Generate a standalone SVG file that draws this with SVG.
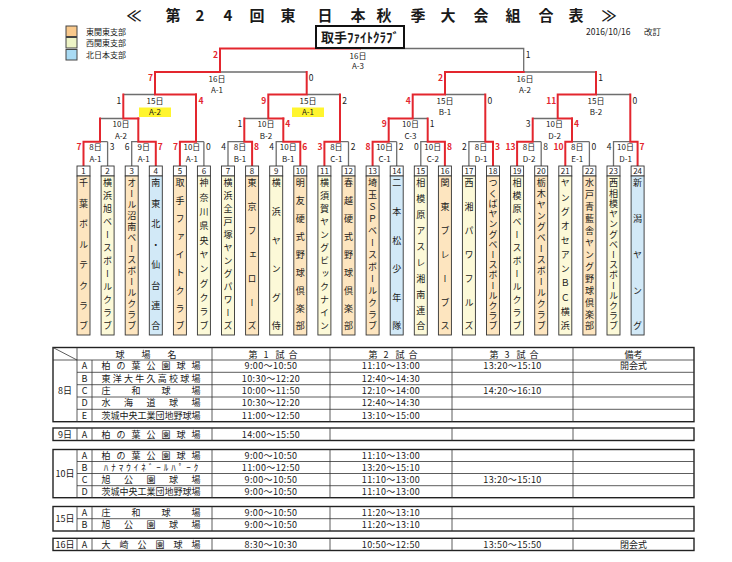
<svg xmlns="http://www.w3.org/2000/svg" width="732" height="562" viewBox="0 0 732 562">
<style>
text{font-family:"Noto Sans CJK JP","Liberation Sans",sans-serif;fill:#1a1a1a}
.red{stroke:#e3262e;stroke-width:2;fill:none;stroke-linecap:square}
.gry{stroke:#6e6e6e;stroke-width:1.3;fill:none}
.lbl{font-size:8px;text-anchor:middle}
.sc{font-size:8.5px;text-anchor:middle}
.sr{fill:#e3262e;font-weight:bold}
.nm{font-size:9px;writing-mode:vertical-rl;text-anchor:middle}
.num{font-size:8px;text-anchor:middle}
.nb{fill:#fff;stroke:#333;stroke-width:0.9}
.bx{stroke:#333;stroke-width:0.9}
.o{fill:#fde5bf}.y{fill:#fcf9d8}.b{fill:#d2e9f7}
.hl{fill:#fff52e}
.tb{fill:none;stroke:#333;stroke-width:0.8}
.to{fill:none;stroke:#222;stroke-width:1.4}
.tt{font-size:9px;text-anchor:middle;letter-spacing:0.4px}
.tv{font-size:9px;text-anchor:middle}
.lg{font-size:8px}
</style>
<rect width="732" height="562" fill="#fff"/>
<g id="title"><text x="134 173 200 228 257 288 325 358 384 418 448 481 513 546 576 609" y="21" style="font-size:15px;font-weight:bold;text-anchor:middle">≪第24回東日本秋季大会組合表≫</text></g>
<g id="date"><text x="586" y="35" style="font-size:8.5px">2016/10/16</text><text x="644" y="35" style="font-size:8.5px">改訂</text></g>
<g id="legend">
<rect x="66" y="26" width="11" height="10.5" fill="#f9c98c" stroke="#444"/>
<rect x="66" y="37.5" width="11" height="10.5" fill="#eef4c6" stroke="#444"/>
<rect x="66" y="49.5" width="11" height="10.5" fill="#a9dbf4" stroke="#444"/>
<text class="lg" x="86" y="34.5">東関東支部</text>
<text class="lg" x="86" y="45.5">西関東支部</text>
<text class="lg" x="86" y="57.5">北日本支部</text>
</g>
<g id="connectors">
<path class="gry" d="M107.6,166V141.7M100,141.7H107.6M131.7,166V141.7H138.3M203.9,166V141.7M196,141.7H203.9M228,166V141.7H244.3M276.2,166V141.7H283.3M348.5,166V141.7M340,141.7H348.5M396.7,166V141.7M388.7,141.7H396.7M420.8,166V141.7H427.7M468.9,166V141.7H485.3M541.2,166V141.7M532.7,141.7H541.2M589.4,166V141.7M572,141.7H589.4M613.5,166V141.7H630.3"/>
<path class="gry" d="M100,118.5H123.3M244.3,118.5H268.3M412.7,118.5H427.7M532.7,118.5H557.7M123.3,94.5H155M306.7,94.5H340M445,94.5H485.3M596,94.5H630.3M220,72H306.7M523.7,72H596M360,48.5H523.7V72"/>
<path class="red" d="M83.5,166V141.7H100V118.5M155.8,166V141.7H138.3V118.5M179.9,166V141.7H196V94.5M252.1,166V141.7H244.3V118.5M300.3,166V141.7H283.3V118.5M324.4,166V141.7H340V94.5M372.6,166V141.7H388.7V118.5M444.9,166V141.7H427.7V118.5M493,166V141.7H485.3V94.5M517.1,166V141.7H532.7V118.5M565.3,166V141.7H572V118.5M637.6,166V141.7H630.3V94.5"/>
<path class="red" d="M138.3,118.5H123.3V94.5M283.3,118.5H268.3V94.5M388.7,118.5H412.7V94.5M572,118.5H557.7V94.5M196,94.5H155V72M268.3,94.5H306.7V72M412.7,94.5H445V72M557.7,94.5H596V72M155,72H220V48.5H360M445,72H523.7"/>
</g>
<g id="champion"><rect x="316" y="26" width="88" height="22" fill="#fff" stroke="#111" stroke-width="2"/><text x="360" y="42" style="font-size:13px;font-weight:bold;text-anchor:middle">取手ﾌｧｲﾄｸﾗﾌﾞ</text></g>
<g id="m01"><text class="lbl" x="95.5" y="150">8日</text><text class="lbl" x="95.5" y="162">A-1</text><text class="sc sr" x="79" y="150">7</text><text class="sc" x="112" y="150">3</text></g>
<g id="m02"><text class="lbl" x="143.7" y="150">9日</text><text class="lbl" x="143.7" y="162">A-1</text><text class="sc" x="127.2" y="150">6</text><text class="sc sr" x="160.3" y="150">7</text></g>
<g id="m03"><text class="lbl" x="191.9" y="150">10日</text><text class="lbl" x="191.9" y="162">A-1</text><text class="sc sr" x="175.4" y="150">7</text><text class="sc" x="208.4" y="150">0</text></g>
<g id="m04"><text class="lbl" x="240" y="150">8日</text><text class="lbl" x="240" y="162">B-1</text><text class="sc" x="223.5" y="150">4</text><text class="sc sr" x="256.6" y="150">8</text></g>
<g id="m05"><text class="lbl" x="288.2" y="150">10日</text><text class="lbl" x="288.2" y="162">B-1</text><text class="sc" x="271.7" y="150">4</text><text class="sc sr" x="304.8" y="150">6</text></g>
<g id="m06"><text class="lbl" x="336.4" y="150">8日</text><text class="lbl" x="336.4" y="162">C-1</text><text class="sc sr" x="319.9" y="150">3</text><text class="sc" x="353" y="150">2</text></g>
<g id="m07"><text class="lbl" x="384.6" y="150">10日</text><text class="lbl" x="384.6" y="162">C-1</text><text class="sc sr" x="368.1" y="150">8</text><text class="sc" x="401.2" y="150">2</text></g>
<g id="m08"><text class="lbl" x="432.8" y="150">10日</text><text class="lbl" x="432.8" y="162">C-2</text><text class="sc" x="416.3" y="150">0</text><text class="sc sr" x="449.4" y="150">8</text></g>
<g id="m09"><text class="lbl" x="481" y="150">8日</text><text class="lbl" x="481" y="162">D-1</text><text class="sc" x="464.4" y="150">2</text><text class="sc sr" x="497.5" y="150">3</text></g>
<g id="m10"><text class="lbl" x="529.1" y="150">8日</text><text class="lbl" x="529.1" y="162">D-2</text><text class="sc sr" x="510.4" y="150">13</text><text class="sc" x="545.7" y="150">8</text></g>
<g id="m11"><text class="lbl" x="577.3" y="150">8日</text><text class="lbl" x="577.3" y="162">E-1</text><text class="sc sr" x="558.6" y="150">10</text><text class="sc" x="593.9" y="150">0</text></g>
<g id="m12"><text class="lbl" x="625.5" y="150">10日</text><text class="lbl" x="625.5" y="162">D-1</text><text class="sc" x="609" y="150">4</text><text class="sc sr" x="642.1" y="150">7</text></g>
<g id="m13"><text class="lbl" x="121" y="127">10日</text><text class="lbl" x="121" y="139">A-2</text></g>
<g id="m14"><text class="lbl" x="266" y="127">10日</text><text class="lbl" x="266" y="139">B-2</text><text class="sc" x="239.8" y="127">1</text><text class="sc sr" x="287.8" y="127">4</text></g>
<g id="m15"><text class="lbl" x="410.5" y="127">10日</text><text class="lbl" x="410.5" y="139">C-3</text><text class="sc sr" x="384.2" y="127">9</text><text class="sc" x="432.2" y="127">1</text></g>
<g id="m16"><text class="lbl" x="554.5" y="127">10日</text><text class="lbl" x="554.5" y="139">D-2</text><text class="sc" x="528.2" y="127">3</text><text class="sc sr" x="576.5" y="127">4</text></g>
<g id="m17"><rect class="hl" x="139" y="107.5" width="32" height="9.5"/><text class="lbl" x="155" y="103.5">15日</text><text class="lbl" x="155" y="115">A-2</text><text class="sc" x="118.8" y="103.5">1</text><text class="sc sr" x="201" y="103.5">4</text></g>
<g id="m18"><rect class="hl" x="292" y="107.5" width="32" height="9.5"/><text class="lbl" x="308" y="103.5">15日</text><text class="lbl" x="308" y="115">A-1</text><text class="sc sr" x="263.8" y="103.5">9</text><text class="sc" x="344.5" y="103.5">2</text></g>
<g id="m19"><text class="lbl" x="445" y="103.5">15日</text><text class="lbl" x="445" y="115">B-1</text><text class="sc sr" x="408.2" y="103.5">4</text><text class="sc" x="489.8" y="103.5">0</text></g>
<g id="m20"><text class="lbl" x="596" y="103.5">15日</text><text class="lbl" x="596" y="115">B-2</text><text class="sc sr" x="551.2" y="103.5">11</text><text class="sc" x="634.8" y="103.5">0</text></g>
<g id="m21"><text class="lbl" x="217" y="82">16日</text><text class="lbl" x="217" y="92.5">A-1</text><text class="sc sr" x="150.5" y="80.5">7</text><text class="sc" x="311.2" y="80.5">0</text></g>
<g id="m22"><text class="lbl" x="525" y="82">16日</text><text class="lbl" x="525" y="92.5">A-2</text><text class="sc sr" x="440.5" y="80.5">2</text><text class="sc" x="600.5" y="80.5">1</text></g>
<g id="m23"><text class="lbl" x="358" y="58.5">16日</text><text class="lbl" x="358" y="69">A-3</text><text class="sc sr" x="215.5" y="57.5">2</text><text class="sc" x="528.2" y="57.5">1</text></g>
<g id="team1"><rect class="nb" x="77" y="166" width="13" height="10"/><text class="num" x="83.5" y="174">1</text><rect class="bx o" x="77" y="176" width="13" height="159"/><text class="nm" x="83.5" y="183 203.4 223.9 244.3 264.7 285.1 305.6 326">千葉ボルテクラブ</text></g>
<g id="team2"><rect class="nb" x="101.1" y="166" width="13" height="10"/><text class="num" x="107.6" y="174">2</text><rect class="bx y" x="101.1" y="176" width="13" height="159"/><text class="nm" x="107.6" y="183 196 209 222 235 248 261 274 287 300 313 326">横浜旭ベースボールクラブ</text></g>
<g id="team3"><rect class="nb" x="125.2" y="166" width="13" height="10"/><text class="num" x="131.7" y="174">3</text><rect class="bx o" x="125.2" y="176" width="13" height="159"/><text class="nm" x="131.7" y="183 194 205 216 227 238 249 260 271 282 293 304 315 326">オール沼南ベースボールクラブ</text></g>
<g id="team4"><rect class="nb" x="149.3" y="166" width="13" height="10"/><text class="num" x="155.8" y="174">4</text><rect class="bx b" x="149.3" y="176" width="13" height="159"/><text class="nm" x="155.8" y="183 203.4 223.9 244.3 264.7 285.1 305.6 326">南東北・仙台連合</text></g>
<g id="team5"><rect class="nb" x="173.4" y="166" width="13" height="10"/><text class="num" x="179.9" y="174">5</text><rect class="bx o" x="173.4" y="176" width="13" height="159"/><text class="nm" x="179.9" y="183 200.9 218.8 236.6 254.5 272.4 290.3 308.1 326">取手ファイトクラブ</text></g>
<g id="team6"><rect class="nb" x="197.4" y="166" width="13" height="10"/><text class="num" x="203.9" y="174">6</text><rect class="bx y" x="197.4" y="176" width="13" height="159"/><text class="nm" x="203.9" y="183 197.3 211.6 225.9 240.2 254.5 268.8 283.1 297.4 311.7 326">神奈川県央ヤングクラブ</text></g>
<g id="team7"><rect class="nb" x="221.5" y="166" width="13" height="10"/><text class="num" x="228" y="174">7</text><rect class="bx y" x="221.5" y="176" width="13" height="159"/><text class="nm" x="228" y="183 196 209 222 235 248 261 274 287 300 313 326">横浜全戸塚ヤングパワーズ</text></g>
<g id="team8"><rect class="nb" x="245.6" y="166" width="13" height="10"/><text class="num" x="252.1" y="174">8</text><rect class="bx o" x="245.6" y="176" width="13" height="159"/><text class="nm" x="252.1" y="183 206.8 230.7 254.5 278.3 302.2 326">東京フェローズ</text></g>
<g id="team9"><rect class="nb" x="269.7" y="166" width="13" height="10"/><text class="num" x="276.2" y="174">9</text><rect class="bx y" x="269.7" y="176" width="13" height="159"/><text class="nm" x="276.2" y="183 211.6 240.2 268.8 297.4 326">横浜ヤング侍</text></g>
<g id="team10"><rect class="nb" x="293.8" y="166" width="13" height="10"/><text class="num" x="300.3" y="174">10</text><rect class="bx o" x="293.8" y="176" width="13" height="159"/><text class="nm" x="300.3" y="183 200.9 218.8 236.6 254.5 272.4 290.3 308.1 326">明友硬式野球倶楽部</text></g>
<g id="team11"><rect class="nb" x="317.9" y="166" width="13" height="10"/><text class="num" x="324.4" y="174">11</text><rect class="bx y" x="317.9" y="176" width="13" height="159"/><text class="nm" x="324.4" y="183 196 209 222 235 248 261 274 287 300 313 326">横須賀ヤングビックナイン</text></g>
<g id="team12"><rect class="nb" x="342" y="166" width="13" height="10"/><text class="num" x="348.5" y="174">12</text><rect class="bx o" x="342" y="176" width="13" height="159"/><text class="nm" x="348.5" y="183 200.9 218.8 236.6 254.5 272.4 290.3 308.1 326">春越硬式野球倶楽部</text></g>
<g id="team13"><rect class="nb" x="366.1" y="166" width="13" height="10"/><text class="num" x="372.6" y="174">13</text><rect class="bx o" x="366.1" y="176" width="13" height="159"/><text class="nm" x="372.6" y="183 194.9 206.8 218.8 230.7 242.6 254.5 266.4 278.3 290.3 302.2 314.1 326">埼玉ＳＰベースボールクラブ</text></g>
<g id="team14"><rect class="nb" x="390.2" y="166" width="13" height="10"/><text class="num" x="396.7" y="174">14</text><rect class="bx b" x="390.2" y="176" width="13" height="159"/><text class="nm" x="396.7" y="183 211.6 240.2 268.8 297.4 326">二本松少年隊</text></g>
<g id="team15"><rect class="nb" x="414.3" y="166" width="13" height="10"/><text class="num" x="420.8" y="174">15</text><rect class="bx y" x="414.3" y="176" width="13" height="159"/><text class="nm" x="420.8" y="183 198.9 214.8 230.7 246.6 262.4 278.3 294.2 310.1 326">相模原アスレ湘南連合</text></g>
<g id="team16"><rect class="nb" x="438.4" y="166" width="13" height="10"/><text class="num" x="444.9" y="174">16</text><rect class="bx o" x="438.4" y="176" width="13" height="159"/><text class="nm" x="444.9" y="183 206.8 230.7 254.5 278.3 302.2 326">関東ブレーブス</text></g>
<g id="team17"><rect class="nb" x="462.4" y="166" width="13" height="10"/><text class="num" x="468.9" y="174">17</text><rect class="bx y" x="462.4" y="176" width="13" height="159"/><text class="nm" x="468.9" y="183 206.8 230.7 254.5 278.3 302.2 326">西湘パワフルズ</text></g>
<g id="team18"><rect class="nb" x="486.5" y="166" width="13" height="10"/><text class="num" x="493" y="174">18</text><rect class="bx o" x="486.5" y="176" width="13" height="159"/><text class="nm" x="493" y="183 193.2 203.4 213.6 223.9 234.1 244.3 254.5 264.7 274.9 285.1 295.4 305.6 315.8 326">つくばヤングベースボールクラブ</text></g>
<g id="team19"><rect class="nb" x="510.6" y="166" width="13" height="10"/><text class="num" x="517.1" y="174">19</text><rect class="bx y" x="510.6" y="176" width="13" height="159"/><text class="nm" x="517.1" y="183 196 209 222 235 248 261 274 287 300 313 326">相模原ベースボールクラブ</text></g>
<g id="team20"><rect class="nb" x="534.7" y="166" width="13" height="10"/><text class="num" x="541.2" y="174">20</text><rect class="bx o" x="534.7" y="176" width="13" height="159"/><text class="nm" x="541.2" y="183 194 205 216 227 238 249 260 271 282 293 304 315 326">栃木ヤングベースボールクラブ</text></g>
<g id="team21"><rect class="nb" x="558.8" y="166" width="13" height="10"/><text class="num" x="565.3" y="174">21</text><rect class="bx y" x="558.8" y="176" width="13" height="159"/><text class="nm" x="565.3" y="183 197.3 211.6 225.9 240.2 254.5 268.8 283.1 297.4 311.7 326">ヤングオセアンＢＣ横浜</text></g>
<g id="team22"><rect class="nb" x="582.9" y="166" width="13" height="10"/><text class="num" x="589.4" y="174">22</text><rect class="bx o" x="582.9" y="176" width="13" height="159"/><text class="nm" x="589.4" y="183 194.9 206.8 218.8 230.7 242.6 254.5 266.4 278.3 290.3 302.2 314.1 326">水戸青藍舎ヤング野球倶楽部</text></g>
<g id="team23"><rect class="nb" x="607" y="166" width="13" height="10"/><text class="num" x="613.5" y="174">23</text><rect class="bx y" x="607" y="176" width="13" height="159"/><text class="nm" x="613.5" y="183 193.2 203.4 213.6 223.9 234.1 244.3 254.5 264.7 274.9 285.1 295.4 305.6 315.8 326">西相模ヤングベースボールクラブ</text></g>
<g id="team24"><rect class="nb" x="631.1" y="166" width="13" height="10"/><text class="num" x="637.6" y="174">24</text><rect class="bx b" x="631.1" y="176" width="13" height="159"/><text class="nm" x="637.6" y="183 218.8 254.5 290.3 326">新潟ヤング</text></g>
<g id="schedule">
<rect class="to" x="53" y="347.5" width="641" height="74.2"/>
<path class="tb" d="M53,360H694M77,372.3H694M77,384.7H694M77,397H694M77,409.3H694M77,347.5V421.7M92,360V421.7M212,347.5V421.7M330,347.5V421.7M452,347.5V421.7M573,347.5V421.7M53,347.5L77,360"/>
<text class="tv" x="120 146 172" y="357.5">球場名</text>
<text class="tv" x="253 266 280 293" y="357.5">第1試合</text>
<text class="tv" x="373 386 400 413" y="357.5">第2試合</text>
<text class="tv" x="494 507 521 534" y="357.5">第3試合</text>
<text class="tv" x="633.5" y="357.5">備考</text>
<text class="tv" x="65" y="394">8日</text>
<text class="tv" x="84.5" y="369.4">A</text><text class="tv" x="84.5" y="381.7">B</text><text class="tv" x="84.5" y="394">C</text><text class="tv" x="84.5" y="406.4">D</text><text class="tv" x="84.5" y="418.7">E</text>
<text class="tv" x="106 121 136 151 166 181 196" y="369.4">柏の葉公園球場</text>
<text class="tv" x="106 117.3 128.5 139.8 151 162.3 173.5 184.8 196" y="381.7">東洋大牛久高校球場</text>
<text class="tv" x="106 136 166 196" y="394">庄和球場</text>
<text class="tv" x="106 128.5 151 173.5 196" y="406.4">水海道球場</text>
<text class="tv" x="106 115 124 133 142 151 160 169 178 187 196" y="418.7">茨城中央工業団地野球場</text>
<text class="tt" x="271" y="369.4">9:00～10:50</text><text class="tt" x="391" y="369.4">11:10～13:00</text><text class="tt" x="512.5" y="369.4">13:20～15:10</text><text class="tv" x="633.5" y="369.4">開会式</text>
<text class="tt" x="271" y="381.7">10:30～12:20</text><text class="tt" x="391" y="381.7">12:40～14:30</text>
<text class="tt" x="271" y="394">10:00～11:50</text><text class="tt" x="391" y="394">12:10～14:00</text><text class="tt" x="512.5" y="394">14:20～16:10</text>
<text class="tt" x="271" y="406.4">10:30～12:20</text><text class="tt" x="391" y="406.4">12:40～14:30</text>
<text class="tt" x="271" y="418.7">11:00～12:50</text><text class="tt" x="391" y="418.7">13:10～15:00</text>
<rect class="to" x="53" y="428" width="641" height="12.5"/>
<path class="tb" d="M77,428V440.5M92,428V440.5M212,428V440.5M330,428V440.5M452,428V440.5M573,428V440.5"/>
<text class="tv" x="65" y="437.6">9日</text><text class="tv" x="84.5" y="437.6">A</text>
<text class="tv" x="106 121 136 151 166 181 196" y="437.6">柏の葉公園球場</text>
<text class="tt" x="271" y="437.6">14:00～15:50</text>
<rect class="to" x="53" y="449.5" width="641" height="48.2"/>
<path class="tb" d="M77,461.5H694M77,473.5H694M77,485.7H694M77,449.5V497.7M92,449.5V497.7M212,449.5V497.7M330,449.5V497.7M452,449.5V497.7M573,449.5V497.7"/>
<text class="tv" x="65" y="476.8">10日</text>
<text class="tv" x="84.5" y="458.7">A</text><text class="tv" x="84.5" y="470.7">B</text><text class="tv" x="84.5" y="482.8">C</text><text class="tv" x="84.5" y="494.9">D</text>
<text class="tv" x="106 121 136 151 166 181 196" y="458.7">柏の葉公園球場</text>
<text class="tv" x="106 113.5 121 128.5 136 143.5 151 158.5 166 173.5 181 188.5 196" y="470.7">ﾊﾅﾏｳｲﾈﾞｰﾙﾊﾟｰｸ</text>
<text class="tv" x="106 128.5 151 173.5 196" y="482.8">旭公園球場</text>
<text class="tv" x="106 115 124 133 142 151 160 169 178 187 196" y="494.9">茨城中央工業団地野球場</text>
<text class="tt" x="271" y="458.7">9:00～10:50</text><text class="tt" x="391" y="458.7">11:10～13:00</text>
<text class="tt" x="271" y="470.7">11:00～12:50</text><text class="tt" x="391" y="470.7">13:20～15:10</text>
<text class="tt" x="271" y="482.8">9:00～10:50</text><text class="tt" x="391" y="482.8">11:10～13:00</text><text class="tt" x="512.5" y="482.8">13:20～15:10</text>
<text class="tt" x="271" y="494.9">9:00～10:50</text><text class="tt" x="391" y="494.9">11:10～13:00</text>
<rect class="to" x="53" y="506.5" width="641" height="24.5"/>
<path class="tb" d="M77,518.7H694M77,506.5V531M92,506.5V531M212,506.5V531M330,506.5V531M452,506.5V531M573,506.5V531"/>
<text class="tv" x="65" y="521.9">15日</text>
<text class="tv" x="84.5" y="515.8">A</text><text class="tv" x="84.5" y="528.1">B</text>
<text class="tv" x="106 136 166 196" y="515.8">庄和球場</text>
<text class="tv" x="106 128.5 151 173.5 196" y="528.1">旭公園球場</text>
<text class="tt" x="271" y="515.8">9:00～10:50</text><text class="tt" x="391" y="515.8">11:20～13:10</text>
<text class="tt" x="271" y="528.1">9:00～10:50</text><text class="tt" x="391" y="528.1">11:20～13:10</text>
<rect class="to" x="53" y="538.3" width="641" height="12.2"/>
<path class="tb" d="M77,538.3V550.5M92,538.3V550.5M212,538.3V550.5M330,538.3V550.5M452,538.3V550.5M573,538.3V550.5"/>
<text class="tv" x="65" y="547.6">16日</text><text class="tv" x="84.5" y="547.6">A</text>
<text class="tv" x="106 124 142 160 178 196" y="547.6">大崎公園球場</text>
<text class="tt" x="271" y="547.6">8:30～10:30</text><text class="tt" x="391" y="547.6">10:50～12:50</text><text class="tt" x="512.5" y="547.6">13:50～15:50</text><text class="tv" x="633.5" y="547.6">閉会式</text>
</g>
</svg>
